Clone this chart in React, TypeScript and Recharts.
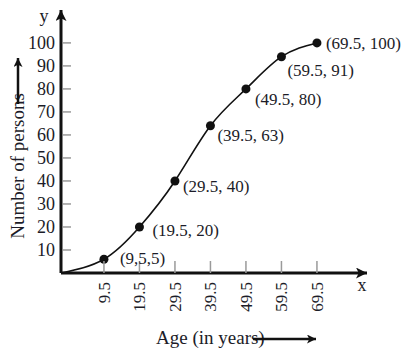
import React from "react";
import { LineChart, Line, XAxis, YAxis, LabelList } from "recharts";

// age (upper class boundaries) and cumulative number of persons
const ages = [9.5, 19.5, 29.5, 39.5, 49.5, 59.5, 69.5];
const persons = [6, 20, 40, 64, 80, 94, 100];
const pointLabels = ["(9,5,5)", "(19.5, 20)", "(29.5, 40)", "(39.5, 63)", "(49.5, 80)", "(59.5, 91)", "(69.5, 100)"];
const yTicks = [10, 20, 30, 40, 50, 60, 70, 80, 90, 100];

const X_MIN = -2.6;
const X_MAX = 83.6;
const Y_MAX = 114.3;

// label nudges [dx, dy] from each dot
const labelNudge = [[16, -1], [13, 3], [8, 5], [7, 9], [9, 10], [6, 13], [9, 0]];

const FONT = "'Liberation Serif', 'DejaVu Serif', serif";
const INK = "#1c1c28";

const data = [
    { age: X_MIN, persons: 0, label: "" },
    ...ages.map((a, i) => ({ age: a, persons: persons[i], label: pointLabels[i] })),
];

function YTick(props: any) {
    const { x, y, payload } = props;
    return (
        <g>
            <line x1={x + 8} y1={y} x2={x + 16} y2={y} stroke="#9a9a9a" strokeWidth={1.5} />
            <text x={x} y={y} dy="0.35em" textAnchor="end" fontFamily={FONT} fontSize={18} fill={INK}>
                {payload.value}
            </text>
        </g>
    );
}

function XTick(props: any) {
    const { x, y, payload } = props;
    return (
        <g>
            <line x1={x} y1={y - 21} x2={x} y2={y - 9} stroke="#9a9a9a" strokeWidth={1.5} />
            <text
                x={x}
                y={y}
                dy="0.35em"
                textAnchor="end"
                transform={`rotate(-90, ${x}, ${y})`}
                fontFamily={FONT}
                fontSize={17}
                fill={INK}
            >
                {payload.value}
            </text>
        </g>
    );
}

function Dot(props: any) {
    const { cx, cy, index } = props;
    if (index === 0) return <g key={`d${index}`} />;
    return <circle key={`d${index}`} cx={cx} cy={cy} r={4.5} fill="#111" />;
}

function PointLabel(props: any) {
    const { x, y, index, value } = props;
    if (!value) return null;
    const [dx, dy] = labelNudge[index - 1] || [10, 4];
    return (
        <text x={x + dx} y={y + dy} dy="0.35em" fontFamily={FONT} fontSize={17} fill={INK}>
            {value}
        </text>
    );
}

export default function App() {
    return (
        <div style={{ position: "absolute", left: 0, top: 0, width: 416, height: 356, background: "#fff" }}>
            <LineChart
                width={416}
                height={356}
                data={data}
                margin={{ top: 10, right: 49, left: 11, bottom: 23 }}
            >
                <defs>
                    <marker
                        id="axisArrow"
                        viewBox="0 0 10 10"
                        refX={10}
                        refY={5}
                        markerWidth={12}
                        markerHeight={11}
                        markerUnits="userSpaceOnUse"
                        orient="auto-start-reverse"
                    >
                        <path d="M0,0 L10,5 L0,10 L2.5,5 Z" fill="#111" />
                    </marker>
                </defs>
                <XAxis
                    dataKey="age"
                    type="number"
                    domain={[X_MIN, X_MAX]}
                    ticks={ages}
                    allowDataOverflow
                    height={60}
                    tickSize={0}
                    tickMargin={9}
                    tickLine={false}
                    tick={<XTick />}
                    interval={0}
                    axisLine={{ stroke: "#111", strokeWidth: 3, markerEnd: "url(#axisArrow)" }}
                />
                <YAxis
                    type="number"
                    domain={[0, Y_MAX]}
                    ticks={yTicks}
                    allowDataOverflow
                    width={50}
                    tickSize={0}
                    tickMargin={6}
                    tickLine={false}
                    tick={<YTick />}
                    interval={0}
                    axisLine={{ stroke: "#111", strokeWidth: 3, markerStart: "url(#axisArrow)" }}
                />
                <Line
                    type="natural"
                    dataKey="persons"
                    stroke="#111"
                    strokeWidth={1.6}
                    dot={Dot}
                    activeDot={false}
                    isAnimationActive={false}
                >
                    <LabelList dataKey="label" content={PointLabel} />
                </Line>
            </LineChart>
            <svg
                width={416}
                height={356}
                style={{ position: "absolute", left: 0, top: 0, pointerEvents: "none" }}
            >
                <defs>
                    <marker
                        id="titleArrow"
                        viewBox="0 0 10 10"
                        refX={10}
                        refY={5}
                        markerWidth={10}
                        markerHeight={9}
                        markerUnits="userSpaceOnUse"
                        orient="auto"
                    >
                        <path d="M0,0 L10,5 L0,10 L2.5,5 Z" fill="#111" />
                    </marker>
                </defs>
                <text x={44} y={22} textAnchor="middle" fontFamily={FONT} fontSize={18} fill={INK}>y</text>
                <text x={362} y={291} textAnchor="middle" fontFamily={FONT} fontSize={18} fill={INK}>x</text>
                <text
                    x={17}
                    y={166}
                    dy="0.35em"
                    textAnchor="middle"
                    transform="rotate(-90, 17, 166)"
                    fontFamily={FONT}
                    fontSize={19}
                    fill={INK}
                >
                    Number of persons
                </text>
                <line x1={18} y1={104} x2={18} y2={58} stroke="#111" strokeWidth={2.5} markerEnd="url(#titleArrow)" />
                <text x={156} y={344} fontFamily={FONT} fontSize={19} fill={INK}>Age (in years)</text>
                <line x1={253} y1={339} x2={316} y2={339} stroke="#111" strokeWidth={2.5} markerEnd="url(#titleArrow)" />
            </svg>
        </div>
    );
}
